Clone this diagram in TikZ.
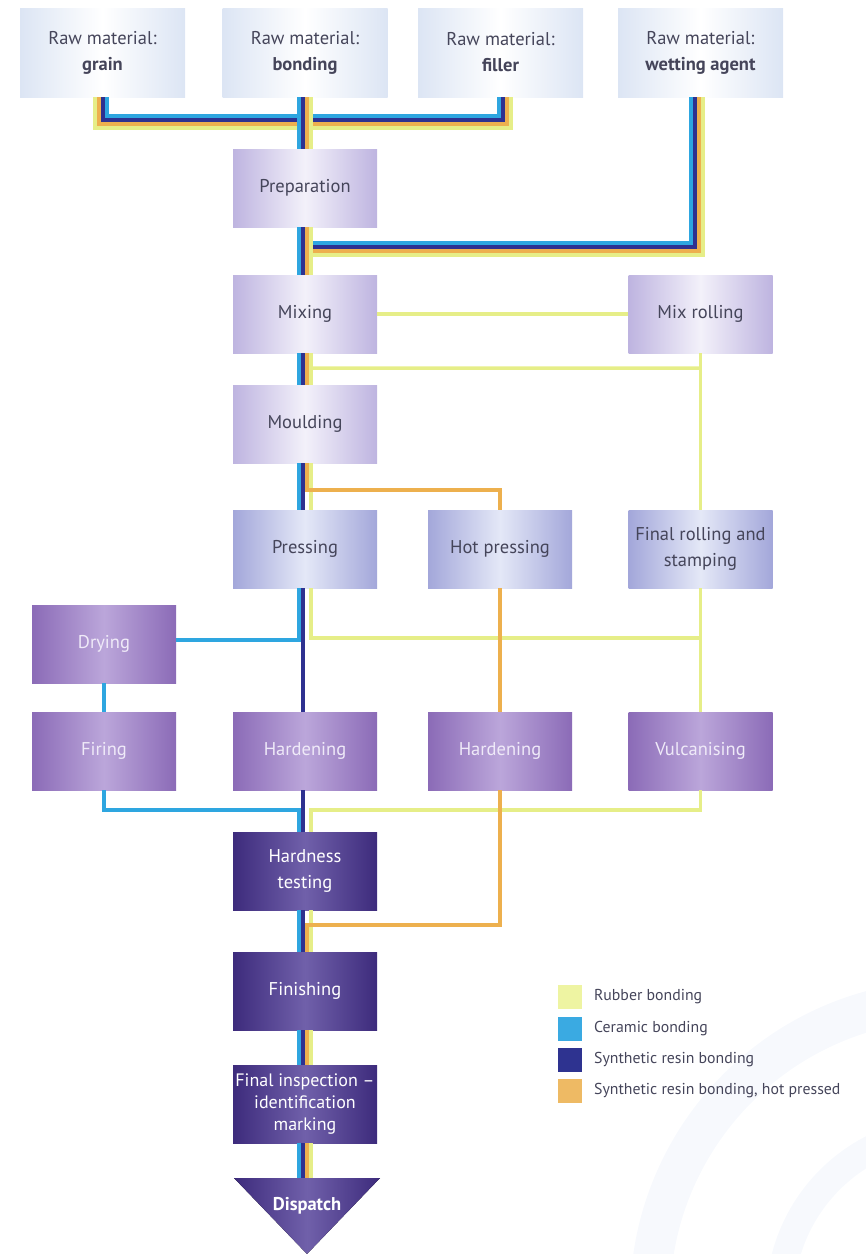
\documentclass[tikz,border=0pt]{standalone}
\usepackage{fontspec}
\setmainfont{PT Sans}
\usetikzlibrary{calc}
\definecolor{cyc}{HTML}{2EA6E0}
\definecolor{dbc}{HTML}{2E3190}
\definecolor{orc}{HTML}{EDB04E}
\definecolor{yec}{HTML}{E6EE88}
\definecolor{txt}{HTML}{45455A}
\definecolor{rawE}{HTML}{DCE5F4}
\definecolor{lavE}{HTML}{BEB4E0}
\definecolor{lavM}{HTML}{F3F1FA}
\definecolor{bluE}{HTML}{A3A7DA}
\definecolor{bluM}{HTML}{E4E8F7}
\definecolor{purE}{HTML}{8B6BB7}
\definecolor{purM}{HTML}{BBA6DA}
\definecolor{purT}{HTML}{EFEAF8}
\definecolor{dkE}{HTML}{3D2B7C}
\definecolor{dkM}{HTML}{7060AA}
\definecolor{wmk}{HTML}{F7F9FD}
\definecolor{legY}{HTML}{EEF4A2}
\definecolor{legC}{HTML}{3AAAE2}
\definecolor{legD}{HTML}{2E3390}
\definecolor{legO}{HTML}{EEBA64}
\newcommand{\fourlines}[2]{%
  \draw[yeline] ([xshift=6pt]#1) -- ([xshift=6pt]#2);
  \draw[orline] ([xshift=2pt]#1) -- ([xshift=2pt]#2);
  \draw[dbline] ([xshift=-2pt]#1) -- ([xshift=-2pt]#2);
  \draw[cyline] ([xshift=-6pt]#1) -- ([xshift=-6pt]#2);}
\begin{document}
\begin{tikzpicture}[x=1pt,y=-1pt,
  box/.style={minimum width=144pt, minimum height=78pt, inner sep=0pt, align=center,
    font=\fontsize{18.5}{26}\selectfont, text=txt},
  rawbox/.style={box, minimum width=165pt, minimum height=89pt,
    left color=rawE, right color=rawE, middle color=white},
  lavbox/.style={box, left color=lavE, right color=lavE, middle color=lavM},
  blubox/.style={box, left color=bluE, right color=bluE, middle color=bluM},
  purbox/.style={box, left color=purE, right color=purE, middle color=purM, text=purT},
  darkbox/.style={box, left color=dkE, right color=dkE, middle color=dkM, text=white},
  cyline/.style={draw=cyc, line width=4pt},
  dbline/.style={draw=dbc, line width=4pt},
  orline/.style={draw=orc, line width=4pt},
  yeline/.style={draw=yec, line width=4pt},
  yethin/.style={draw=yec, line width=3.5pt},
  orthin/.style={draw=orc, line width=3.5pt},
  swatch/.style={minimum width=24pt, minimum height=24pt, inner sep=0pt},
  legtext/.style={anchor=west, inner sep=0pt, text=txt, font=\fontsize{15.8}{18}\selectfont}
]
\useasboundingbox (0,0) rectangle (866,1254);
% faint watermark
\begin{scope}
\clip (0,0) rectangle (866,1254);
\draw[wmk, line width=40pt] (950,1300) circle (300);
\draw[wmk, line width=28pt] (950,1300) circle (170);
\end{scope}

% raw materials
\node[rawbox] (grain)  at (102.5,52.5) {Raw material:\\\textbf{grain}};
\node[rawbox] (bond)   at (305,52.5)   {Raw material:\\\textbf{bonding}};
\node[rawbox] (filler) at (500.5,52.5) {Raw material:\\\textbf{filler}};
\node[rawbox] (wet)    at (700.5,52.5) {Raw material:\\\textbf{wetting agent}};
% process
\node[lavbox] (prep)    at (305,188)   {Preparation};
\node[lavbox] (mix)     at (305,314)   {Mixing};
\node[lavbox] (mixroll) at (700.5,314) {Mix rolling};
\node[lavbox] (mould)   at (305,424)   {Moulding};
\node[blubox] (press)   at (305,549)   {Pressing};
\node[blubox] (hotp)    at (500,549)   {Hot pressing};
\node[blubox] (finroll) at (700.5,549) {Final rolling and\\stamping};
\node[purbox] (dry)     at (104,644)   {Drying};
\node[purbox] (fire)    at (104,751)   {Firing};
\node[purbox] (hardA)   at (305,751)   {Hardening};
\node[purbox] (hardB)   at (500,751)   {Hardening};
\node[purbox] (vulc)    at (700.5,751) {Vulcanising};
\node[darkbox] (htest)  at (305,871)   {Hardness\\testing};
\node[darkbox] (finish) at (305,991)   {Finishing};
\node[darkbox, font=\fontsize{18}{22}\selectfont] (insp) at (305,1104) {Final inspection --\\identification\\marking};
\fill[left color=dkE, right color=dkE, middle color=dkM] (234,1178) -- (380,1178) -- (307,1254) -- cycle;
\coordinate (disptop) at (305,1178);
\node[text=white, font=\fontsize{18.5}{20}\selectfont\bfseries] (disp) at (307,1206) {Dispatch};

% top bundle grain -> filler
\draw[yeline] ([xshift=-8pt]grain.south) -- ++(0,31) -| ([xshift=10pt]filler.south);
\draw[orline] ([xshift=-4pt]grain.south) -- ++(0,27) -| ([xshift=6pt]filler.south);
\draw[dbline] ([xshift=0pt]grain.south) -- ++(0,23) -| ([xshift=2pt]filler.south);
\draw[cyline] ([xshift=4pt]grain.south) -- ++(0,19) -| ([xshift=-2pt]filler.south);
\fourlines{bond.south}{prep.north}
% wetting agent
\draw[yeline] ([xshift=2pt]wet.south) |- ($(prep.south)+(6,28)$);
\draw[orline] ([xshift=-2pt]wet.south) |- ($(prep.south)+(2,24)$);
\draw[dbline] ([xshift=-6pt]wet.south) |- ($(prep.south)+(-2,20)$);
\draw[cyline] ([xshift=-10pt]wet.south) |- ($(prep.south)+(-6,16)$);
\fourlines{prep.south}{mix.north}
% rubber loop
\draw[yethin] (mix.east) -- (mixroll.west);
\draw[yethin] (mixroll.south) -- (finroll.north);
\draw[yethin] (mixroll.south |- 0,368) -- ($(mix.south)+(6,15)$);
\fourlines{mix.south}{mould.north}
% moulding -> pressing
\draw[yeline] ([xshift=6pt]mould.south) -- ([xshift=6pt]press.north);
\draw[dbline] ([xshift=-2pt]mould.south) -- ([xshift=-2pt]press.north);
\draw[cyline] ([xshift=-6pt]mould.south) -- ([xshift=-6pt]press.north);
% pressing outputs
\draw[yethin] ([xshift=6pt]press.south) -- ++(0,50) -| (vulc.north);
\draw[yethin] (finroll.south) -- (vulc.north);
\draw[cyline] ([xshift=-6pt]press.south) |- ([yshift=4pt]dry.east);
\draw[dbline] ([xshift=-2pt]press.south) -- ([xshift=-2pt]hardA.north);
\draw[cyline] (dry.south) -- (fire.north);
% to hardness testing
\draw[yethin] (vulc.south) |- ($(htest.north)+(6,-22)$) -- ([xshift=6pt]htest.north);
\draw[cyline] (fire.south) |- ($(htest.north)+(-6,-22)$) -- ([xshift=-6pt]htest.north);
\draw[dbline] ([xshift=-2pt]hardA.south) -- ([xshift=-2pt]htest.north);
% hot pressed route
\draw[orthin] ([xshift=2pt]mould.south) -- ++(0,27) -| (hotp.north);
\draw[orthin] (hotp.south) -- (hardB.north);
% hardness testing -> finishing
\draw[yeline] ([xshift=6pt]htest.south) -- ([xshift=6pt]finish.north);
\draw[dbline] ([xshift=-2pt]htest.south) -- ([xshift=-2pt]finish.north);
\draw[cyline] ([xshift=-6pt]htest.south) -- ([xshift=-6pt]finish.north);
\draw[orthin] (hardB.south) |- ($(htest.south)+(2,15)$) -- ([xshift=2pt]finish.north);
\fourlines{finish.south}{insp.north}
\fourlines{insp.south}{disptop}

% legend
\node[swatch, fill=legY] (lgY) at (570,997)  {};
\node[swatch, fill=legC] (lgC) at (570,1029) {};
\node[swatch, fill=legD] (lgD) at (570,1060) {};
\node[swatch, fill=legO] (lgO) at (570,1091) {};
\node[legtext] (tY) at (594,997)  {Rubber bonding};
\node[legtext] (tC) at (594,1029) {Ceramic bonding};
\node[legtext] (tD) at (594,1060) {Synthetic resin bonding};
\node[legtext] (tO) at (594,1091) {Synthetic resin bonding, hot pressed};
\end{tikzpicture}
\end{document}
